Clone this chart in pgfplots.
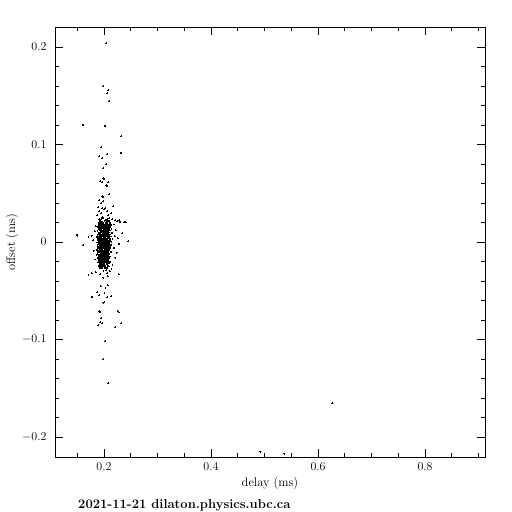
\documentclass[border=0pt]{standalone}
\usepackage{pgfplots}
\pgfplotsset{compat=1.18}

\begin{document}
\begin{tikzpicture}
\begin{axis}[
  at={(0pt,0pt)}, anchor=south west,
  scale only axis, width=430pt, height=430pt,
  xmin=0.1085, xmax=0.912, ymin=-0.2205, ymax=0.2205,
  xtick={0.2,0.4,0.6,0.8},
  ytick={-0.2,-0.1,0,0.1,0.2},
  minor xtick={0.15,0.25,0.3,0.35,0.45,0.5,0.55,0.65,0.7,0.75,0.85,0.9},
  minor ytick={-0.18,-0.16,-0.14,-0.12,-0.08,-0.06,-0.04,-0.02,0.02,0.04,0.06,0.08,0.12,0.14,0.16,0.18},
  tick align=inside,
  major tick length=8pt, minor tick length=4pt,
  every tick/.style={black, line width=0.9pt},
  axis line style={line width=0.9pt},
  tick label style={font=\fontsize{11.5}{13}\selectfont},
  xticklabel style={yshift=-2pt},
  yticklabel style={xshift=-5pt},
  xlabel={delay (ms)}, ylabel={offset (ms)},
  label style={font=\fontsize{12.5}{14}\selectfont},
  xlabel style={at={(axis description cs:0.5,-0.0605)}, anchor=center},
  ylabel style={at={(axis description cs:-0.1,0.5)}, anchor=center},
  every axis plot/.append style={only marks, mark=square*, mark size=0.42pt,
    mark options={line width=0pt, fill=black, draw=black}},
]
% outliers
\addplot coordinates {
(0.2043,0.2038) (0.1987,0.1597) (0.208,0.1556) (0.206,0.1525) (0.210,0.1443)
(0.161,0.120) (0.2024,0.119) (0.2323,0.1084) (0.195,0.0971) (0.191,0.0879)
(0.197,0.0858) (0.206,0.090) (0.2323,0.0913) (0.204,0.0797) (0.1987,0.0756)
(0.1987,0.0653) (0.2006,0.0643) (0.193,0.0623) (0.197,0.0612) (0.208,0.0612)
(0.204,0.0582) (0.206,0.0571) (0.210,0.0489) (0.197,0.0469) (0.1987,0.0458)
(0.191,0.0428) (0.1987,0.0417) (0.195,0.0397) (0.2174,0.0366) (0.189,0.0356)
(0.197,0.0346) (0.2006,0.0335) (0.2024,0.0346) (0.206,0.0315) (0.191,0.0315)
(0.195,0.0294) (0.2136,0.0294) (0.208,0.0274) (0.1875,0.0274) (0.197,0.0253)
(0.191,0.0233) (0.195,0.0233) (0.1987,0.0243) (0.2024,0.0223) (0.206,0.0233)
(0.210,0.0243) (0.2155,0.0233) (0.221,0.0223) (0.225,0.0212) (0.2286,0.0223)
(0.238,0.0202) (0.230,0.0208) (0.2406,0.0202) (0.234,0.0089) (0.2454,0.001)
(0.149,0.0072) (0.150,0.0065) (0.161,-0.0034) (0.171,0.0054) (0.177,0.0065)
(0.222,0.012) (0.226,0.004) (0.219,-0.006) (0.224,-0.011) (0.218,0.018)
(0.221,-0.016) (0.183,0.011) (0.181,-0.009) (0.184,-0.018) (0.216,-0.024)
(0.185,0.016) (0.220,0.006) (0.228,-0.002) (0.180,0.002) (0.186,-0.013)
(0.189,-0.021) (0.196,-0.027) (0.204,-0.029) (0.209,-0.025) (0.211,-0.030)
(0.185,-0.031) (0.193,-0.033) (0.206,-0.032) (0.199,-0.030) (0.214,-0.028)
(0.171,-0.0342) (0.177,-0.0321) (0.228,-0.0331) (0.1987,-0.0366) (0.207,-0.0349)
(0.194,-0.0454) (0.203,-0.0475) (0.207,-0.0444) (0.1875,-0.0516) (0.201,-0.0526)
(0.191,-0.0547) (0.178,-0.0564) (0.206,-0.0567) (0.2136,-0.0557) (0.1987,-0.0623)
(0.2006,-0.0618) (0.191,-0.0711) (0.193,-0.0721) (0.2275,-0.0721) (0.226,-0.0711)
(0.195,-0.0783) (0.193,-0.0824) (0.197,-0.0834) (0.189,-0.0854) (0.221,-0.0875)
(0.2323,-0.0834) (0.2024,-0.1018) (0.1987,-0.1203) (0.208,-0.1449)
(0.6267,-0.1654) (0.537,-0.217) (0.492,-0.215)
};
% dense core
\addplot coordinates {
(0.193,0.0215) (0.197,0.0211) (0.201,0.0218) (0.205,0.0213) (0.209,0.0216)
(0.190,0.0195) (0.194,0.0199) (0.196,0.0192) (0.199,0.0196) (0.203,0.0193) (0.206,0.0198) (0.211,0.0194)
(0.191,0.0175) (0.195,0.0172) (0.198,0.0178) (0.200,0.0174) (0.204,0.0176) (0.207,0.0171) (0.210,0.0177) (0.213,0.0173)
(0.189,0.0155) (0.193,0.0158) (0.196,0.0152) (0.199,0.0156) (0.202,0.0153) (0.205,0.0157) (0.208,0.0154) (0.212,0.0156)
(0.190,0.0135) (0.194,0.0132) (0.197,0.0138) (0.199,0.0134) (0.201,0.0131) (0.204,0.0137) (0.206,0.0133) (0.209,0.0136) (0.214,0.0134)
(0.188,0.0115) (0.192,0.0118) (0.195,0.0112) (0.198,0.0116) (0.200,0.0113) (0.203,0.0117) (0.205,0.0111) (0.208,0.0115) (0.211,0.0118)
(0.190,0.0095) (0.193,0.0092) (0.196,0.0098) (0.198,0.0094) (0.200,0.0097) (0.202,0.0091) (0.204,0.0096) (0.207,0.0093) (0.210,0.0098) (0.215,0.0094)
(0.188,0.0075) (0.191,0.0078) (0.194,0.0072) (0.196,0.0076) (0.198,0.0073) (0.200,0.0077) (0.202,0.0074) (0.204,0.0071) (0.206,0.0076) (0.209,0.0073) (0.212,0.0077)
(0.187,0.0055) (0.190,0.0052) (0.193,0.0058) (0.195,0.0054) (0.197,0.0057) (0.199,0.0051) (0.201,0.0056) (0.203,0.0053) (0.205,0.0058) (0.207,0.0052) (0.210,0.0055) (0.213,0.0057)
(0.189,0.0035) (0.192,0.0038) (0.194,0.0032) (0.196,0.0036) (0.198,0.0033) (0.200,0.0037) (0.202,0.0031) (0.204,0.0036) (0.206,0.0034) (0.208,0.0038) (0.211,0.0032) (0.216,0.0035)
(0.188,0.0015) (0.191,0.0012) (0.193,0.0018) (0.195,0.0014) (0.197,0.0017) (0.199,0.0011) (0.201,0.0016) (0.203,0.0013) (0.205,0.0018) (0.207,0.0012) (0.209,0.0016) (0.212,0.0014)
(0.187,-0.0005) (0.190,-0.0002) (0.192,-0.0008) (0.194,-0.0004) (0.196,-0.0007) (0.198,-0.0001) (0.200,-0.0006) (0.202,-0.0003) (0.204,-0.0008) (0.206,-0.0002) (0.208,-0.0005) (0.210,-0.0008) (0.214,-0.0004)
(0.189,-0.0025) (0.191,-0.0022) (0.193,-0.0028) (0.195,-0.0024) (0.197,-0.0027) (0.199,-0.0021) (0.201,-0.0026) (0.203,-0.0023) (0.205,-0.0028) (0.207,-0.0022) (0.209,-0.0025) (0.213,-0.0027)
(0.188,-0.0045) (0.190,-0.0048) (0.192,-0.0042) (0.194,-0.0046) (0.196,-0.0043) (0.198,-0.0047) (0.200,-0.0041) (0.202,-0.0046) (0.204,-0.0044) (0.206,-0.0048) (0.208,-0.0042) (0.211,-0.0045)
(0.189,-0.0065) (0.192,-0.0062) (0.194,-0.0068) (0.196,-0.0064) (0.198,-0.0067) (0.200,-0.0061) (0.202,-0.0066) (0.204,-0.0063) (0.206,-0.0068) (0.209,-0.0062) (0.212,-0.0065)
(0.187,-0.0085) (0.190,-0.0088) (0.193,-0.0082) (0.195,-0.0086) (0.197,-0.0083) (0.199,-0.0087) (0.201,-0.0081) (0.203,-0.0086) (0.205,-0.0084) (0.207,-0.0088) (0.210,-0.0082)
(0.189,-0.0105) (0.192,-0.0102) (0.194,-0.0108) (0.196,-0.0104) (0.198,-0.0107) (0.200,-0.0101) (0.202,-0.0106) (0.205,-0.0103) (0.208,-0.0108) (0.213,-0.0104)
(0.188,-0.0125) (0.191,-0.0128) (0.194,-0.0122) (0.196,-0.0126) (0.199,-0.0123) (0.201,-0.0127) (0.203,-0.0121) (0.206,-0.0126) (0.209,-0.0124)
(0.190,-0.0145) (0.193,-0.0142) (0.195,-0.0148) (0.197,-0.0144) (0.200,-0.0147) (0.202,-0.0141) (0.204,-0.0146) (0.207,-0.0143) (0.211,-0.0148)
(0.189,-0.0165) (0.192,-0.0168) (0.195,-0.0162) (0.198,-0.0166) (0.200,-0.0163) (0.203,-0.0167) (0.206,-0.0161) (0.210,-0.0166)
(0.191,-0.0185) (0.194,-0.0182) (0.197,-0.0188) (0.199,-0.0184) (0.202,-0.0187) (0.205,-0.0181) (0.208,-0.0186)
(0.190,-0.0205) (0.193,-0.0208) (0.196,-0.0202) (0.199,-0.0206) (0.201,-0.0203) (0.204,-0.0207) (0.207,-0.0201) (0.212,-0.0205)
(0.192,-0.0225) (0.195,-0.0222) (0.198,-0.0228) (0.201,-0.0224) (0.205,-0.0227) (0.209,-0.0221)
(0.191,-0.0245) (0.194,-0.0248) (0.197,-0.0242) (0.200,-0.0246) (0.203,-0.0243) (0.208,-0.0247)
(0.193,-0.0265) (0.197,-0.0262) (0.202,-0.0268) (0.206,-0.0264)
};
\end{axis}
\node[anchor=base west, inner sep=0pt, font=\fontsize{13}{15}\selectfont\bfseries] at (23pt,-51pt) {2021-11-21 dilaton.physics.ubc.ca};
\pgfresetboundingbox
\useasboundingbox (-55pt,-55pt) rectangle (457pt,457pt);
\end{tikzpicture}
\end{document}
